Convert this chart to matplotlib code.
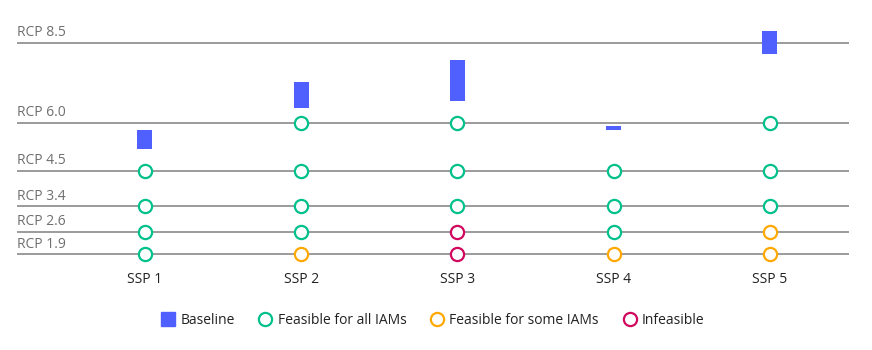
import matplotlib
matplotlib.use("Agg")
import matplotlib.pyplot as plt
from matplotlib.lines import Line2D

plt.rcParams['font.family'] = ['Open Sans', 'DejaVu Sans']

ssps = ['SSP 1', 'SSP 2', 'SSP 3', 'SSP 4', 'SSP 5']
rcp_labels = ['RCP 1.9', 'RCP 2.6', 'RCP 3.4', 'RCP 4.5', 'RCP 6.0', 'RCP 8.5']
rcp_values = [1.9, 2.6, 3.4, 4.5, 6.0, 8.5]

baseline_low = [5.18, 6.48, 6.68, 5.78, 8.17]
baseline_high = [5.80, 7.29, 7.97, 5.90, 8.87]

# feasibility per SSP for RCP 1.9, 2.6, 3.4, 4.5, 6.0 (None = not shown)
feas_ssp1 = ['all', 'all', 'all', 'all', None]
feas_ssp2 = ['some', 'all', 'all', 'all', 'all']
feas_ssp3 = ['none', 'none', 'all', 'all', 'all']
feas_ssp4 = ['some', 'all', 'all', 'all', None]
feas_ssp5 = ['some', 'some', 'all', 'all', 'all']
feasibility = [feas_ssp1, feas_ssp2, feas_ssp3, feas_ssp4, feas_ssp5]

colors = {'all': '#00C08B', 'some': '#FFA800', 'none': '#D0085E'}
bar_color = '#5060FF'
line_color = '#8a8a8a'
label_color = '#6f6f6f'
fs = 10

fig = plt.figure(figsize=(8.72, 3.5), dpi=100)
ax = fig.add_axes([17/872, 1-265/350, (849-17)/872, (265-20)/350])

x = list(range(len(ssps)))
ax.set_xlim(-0.819, 4.506)
ax.set_ylim(1.572, 9.218)

for v, lab in zip(rcp_values, rcp_labels):
    ax.axhline(v, color=line_color, lw=1.2, zorder=1)
    ax.annotate(lab, xy=(0, v), xycoords=('axes fraction', 'data'),
                xytext=(0, 2), textcoords='offset points',
                ha='left', va='bottom', fontsize=fs, color=label_color)

heights = [h - l for h, l in zip(baseline_high, baseline_low)]
ax.bar(x, heights, bottom=baseline_low, width=0.096, color=bar_color, zorder=3)

for i, feas in enumerate(feasibility):
    for v, f in zip(rcp_values, feas):
        if f is None:
            continue
        ax.plot(i, v, marker='o', markersize=9.5, markerfacecolor='white',
                markeredgecolor=colors[f], markeredgewidth=1.6, zorder=4)

ax.set_xticks(x)
ax.set_xticklabels(ssps, fontsize=fs, color='#222222')
ax.tick_params(axis='x', length=0, pad=5)
ax.set_yticks([])
for s in ax.spines.values():
    s.set_visible(False)

handles = [
    Line2D([], [], marker='s', linestyle='none', markersize=10,
           markerfacecolor=bar_color, markeredgecolor=bar_color),
    Line2D([], [], marker='o', linestyle='none', markersize=9.5,
           markerfacecolor='white', markeredgecolor=colors['all'], markeredgewidth=1.6),
    Line2D([], [], marker='o', linestyle='none', markersize=9.5,
           markerfacecolor='white', markeredgecolor=colors['some'], markeredgewidth=1.6),
    Line2D([], [], marker='o', linestyle='none', markersize=9.5,
           markerfacecolor='white', markeredgecolor=colors['none'], markeredgewidth=1.6),
]
fig.legend(handles, ['Baseline', 'Feasible for all IAMs', 'Feasible for some IAMs', 'Infeasible'],
           loc='center', bbox_to_anchor=(432/872, 1-320/350), ncol=4, frameon=False,
           fontsize=fs, handletextpad=0.3, columnspacing=1.6, handlelength=1.2,
           labelcolor='#222222')

fig.savefig('out.png', dpi=100)
